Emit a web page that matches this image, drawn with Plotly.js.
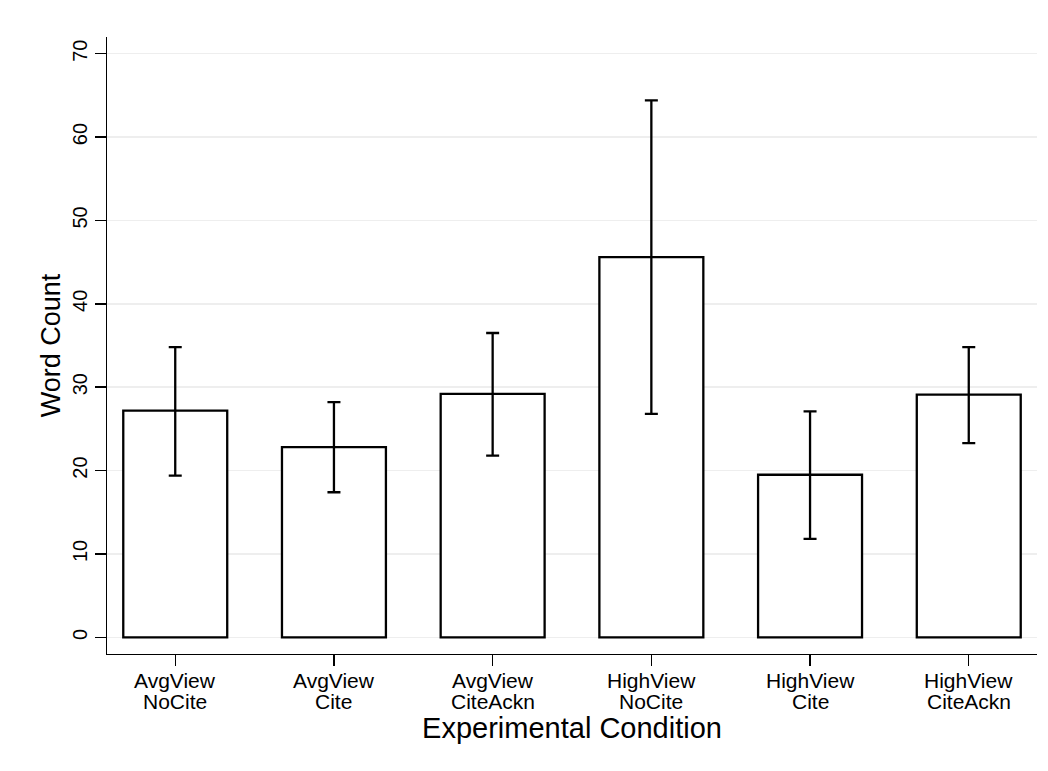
<!DOCTYPE html>
<html><head><meta charset="utf-8">
<script src="https://cdn.plot.ly/plotly-3.0.1.min.js"></script>
<style>html,body{margin:0;padding:0;background:#fff}</style>
</head><body><div id="chart" style="width:1048px;height:771px"></div>
<script>
const categories = ['AvgView NoCite','AvgView Cite','AvgView CiteAckn','HighView NoCite','HighView Cite','HighView CiteAckn'];
const labelLine1 = ['AvgView','AvgView','AvgView','HighView','HighView','HighView'];
const labelLine2 = ['NoCite','Cite','CiteAckn','NoCite','Cite','CiteAckn'];
const meanWords = [27.2, 22.8, 29.2, 45.6, 19.5, 29.1];
const upperCI = [34.8, 28.2, 36.5, 64.4, 27.1, 34.8];
const lowerCI = [19.4, 17.4, 21.8, 26.8, 11.8, 23.3];
const yTickVals = [0, 10, 20, 30, 40, 50, 60, 70];

const FONT = 'Liberation Sans, Arial, Helvetica, sans-serif';

const trace = {
  type: 'bar',
  x: categories,
  y: meanWords,
  marker: {color: '#ffffff', line: {color: '#000000', width: 2.3}},
  error_y: {
    type: 'data', symmetric: false,
    array: upperCI.map((u, i) => u - meanWords[i]),
    arrayminus: lowerCI.map((l, i) => meanWords[i] - l),
    color: '#000000', thickness: 2.3, width: 6.5
  },
  hoverinfo: 'none'
};

const annotations = [];
categories.forEach((c, i) => {
  annotations.push({x: c, xref: 'x', y: 0, yref: 'paper', yanchor: 'middle', yshift: -26.6,
    text: labelLine1[i], showarrow: false, font: {family: FONT, size: 21, color: '#000'}});
  annotations.push({x: c, xref: 'x', y: 0, yref: 'paper', yanchor: 'middle', yshift: -47.5,
    text: labelLine2[i], showarrow: false, font: {family: FONT, size: 21, color: '#000'}});
});

const layout = {
  width: 1048, height: 771,
  margin: {l: 107, r: 11.3, t: 37, b: 116.7, pad: 0},
  paper_bgcolor: '#ffffff', plot_bgcolor: '#ffffff',
  showlegend: false,
  bargap: 0.345,
  font: {family: FONT, color: '#000'},
  xaxis: {
    type: 'category', range: [-0.43, 5.43],
    showline: true, linecolor: '#000', linewidth: 1.4,
    ticks: 'outside', ticklen: 11, tickwidth: 1.4, tickcolor: '#000',
    showticklabels: false, showgrid: false, zeroline: false,
    title: {text: 'Experimental Condition', font: {family: FONT, size: 29, color: '#000'}, standoff: 52}
  },
  yaxis: {
    range: [-2, 72], tickvals: yTickVals, ticktext: yTickVals.map(String),
    showline: true, linecolor: '#000', linewidth: 1.4,
    ticks: 'outside', ticklen: 11, tickwidth: 1.4, tickcolor: '#000',
    tickangle: -90, tickfont: {family: FONT, size: 20, color: '#000'},
    showgrid: true, gridcolor: '#eeeeee', gridwidth: 1.5, zeroline: false,
    title: {text: 'Word Count', font: {family: FONT, size: 27, color: '#000'}, standoff: 0}
  },
  annotations: annotations
};

Plotly.newPlot('chart', [trace], layout, {displayModeBar: false, staticPlot: true});
</script></body></html>
